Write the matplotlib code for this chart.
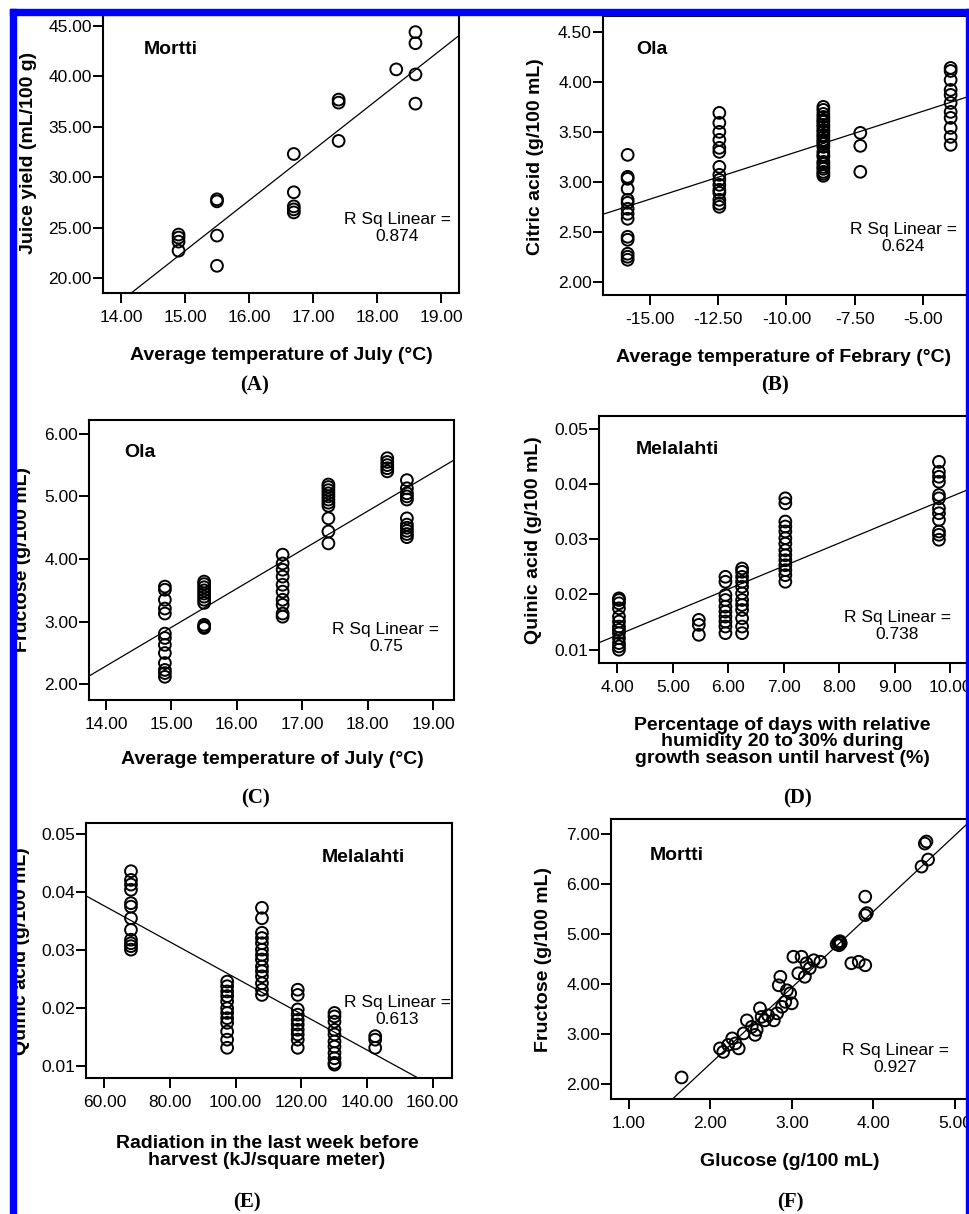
import matplotlib
matplotlib.use("Agg")
import matplotlib.pyplot as plt
import numpy as np
from matplotlib.patches import Rectangle

W, H = 969, 1214

# ---- data ----
# (A) Mortti: juice yield vs July temperature
a_cols = [14.9, 15.5, 16.7, 17.4, 18.3, 18.6]
a_vals = [[24.3, 24.0, 23.6, 22.7],
          [27.8, 27.6, 24.2, 21.2],
          [32.3, 28.5, 27.1, 26.8, 26.5],
          [37.7, 37.4, 33.6],
          [40.7],
          [44.4, 43.3, 40.2, 37.3]]

# (B) Ola: citric acid vs February temperature
b_cols = [-15.8, -12.45, -8.65, -7.3, -4.0]
b_vals = [[3.27, 3.05, 3.03, 2.93, 2.82, 2.79, 2.73, 2.68, 2.63, 2.45, 2.42, 2.28, 2.25, 2.22],
          [3.69, 3.59, 3.50, 3.42, 3.34, 3.30, 3.15, 3.07, 3.02, 2.97, 2.92, 2.89, 2.82, 2.78, 2.75],
          [3.75, 3.72, 3.68, 3.65, 3.62, 3.60, 3.57, 3.55, 3.52, 3.50, 3.47, 3.45, 3.42, 3.40,
           3.38, 3.35, 3.30, 3.27, 3.25, 3.20, 3.18, 3.15, 3.13, 3.10, 3.08, 3.06],
          [3.49, 3.36, 3.10],
          [4.14, 4.11, 4.02, 3.92, 3.87, 3.79, 3.70, 3.64, 3.54, 3.45, 3.37]]

# (C) Ola: fructose vs July temperature
c_cols = [14.9, 15.5, 16.7, 17.4, 18.3, 18.6]
c_vals = [[3.56, 3.51, 3.35, 3.21, 3.13, 2.81, 2.74, 2.63, 2.50, 2.34, 2.23, 2.18, 2.12],
          [3.64, 3.60, 3.55, 3.50, 3.45, 3.40, 3.35, 3.30, 2.95, 2.92, 2.90],
          [4.07, 3.93, 3.83, 3.72, 3.59, 3.48, 3.35, 3.27, 3.13, 3.08],
          [5.19, 5.15, 5.10, 5.05, 5.00, 4.95, 4.90, 4.85, 4.65, 4.44, 4.25],
          [5.61, 5.55, 5.50, 5.45, 5.40],
          [5.26, 5.13, 5.05, 5.00, 4.95, 4.65, 4.55, 4.50, 4.45, 4.40, 4.35]]

# (D) Melalahti: quinic acid vs % days RH 20-30 %
d_cols = [4.03, 5.47, 5.95, 6.25, 7.03, 9.8]
d_vals = [[0.0193, 0.019, 0.0184, 0.0175, 0.016, 0.0151, 0.0142, 0.0136, 0.013, 0.0121, 0.0112, 0.0106, 0.010],
          [0.0154, 0.0145, 0.0127],
          [0.0232, 0.0223, 0.0199, 0.019, 0.0178, 0.0169, 0.016, 0.0151, 0.0142, 0.013],
          [0.0247, 0.0241, 0.0232, 0.0223, 0.0214, 0.0202, 0.019, 0.0181, 0.0172, 0.0157, 0.0142, 0.013],
          [0.0374, 0.0365, 0.0332, 0.0323, 0.0314, 0.0302, 0.0292, 0.028, 0.0271, 0.0262,
           0.0253, 0.0244, 0.0235, 0.0223],
          [0.044, 0.0422, 0.0413, 0.0404, 0.038, 0.0374, 0.0356, 0.0347, 0.0335, 0.0314, 0.0308, 0.0299]]

# (E) Melalahti: quinic acid vs radiation
e_cols = [68.1, 97.4, 108.0, 118.9, 130.1, 142.5]
e_vals = [[0.0436, 0.0421, 0.0413, 0.0404, 0.0381, 0.0375, 0.0355, 0.0335, 0.0318, 0.0312, 0.0307, 0.0301],
          [0.0246, 0.0238, 0.0229, 0.0221, 0.0212, 0.020, 0.0192, 0.0183, 0.0175, 0.016, 0.0146, 0.0132],
          [0.0373, 0.0355, 0.033, 0.0321, 0.0312, 0.0301, 0.0292, 0.0284, 0.0272, 0.0264,
           0.0255, 0.0243, 0.0232, 0.0223],
          [0.0232, 0.0223, 0.0198, 0.0189, 0.018, 0.0172, 0.0163, 0.0155, 0.0146, 0.0132],
          [0.0192, 0.0186, 0.0177, 0.0163, 0.0155, 0.0143, 0.0134, 0.0123, 0.0114, 0.0106, 0.0103],
          [0.0152, 0.0146, 0.0132]]

# (F) Mortti: fructose vs glucose
f_glucose = [1.65, 2.12, 2.16, 2.22, 2.27, 2.31, 2.35, 2.41, 2.45, 2.51, 2.55, 2.57, 2.61, 2.63,
             2.67, 2.71, 2.78, 2.82, 2.88, 2.92, 3.00, 2.86, 2.84, 2.94, 2.98, 3.02, 3.12, 3.08,
             3.16, 3.22, 3.27, 3.35, 3.18, 3.55, 3.57, 3.58, 3.60, 3.59, 3.73, 3.82, 3.90,
             3.90, 3.92, 3.90, 4.59, 4.67, 4.63, 4.65]
f_fructose = [2.14, 2.72, 2.65, 2.79, 2.92, 2.82, 2.72, 3.02, 3.28, 3.15, 2.99, 3.09, 3.52, 3.35,
              3.28, 3.38, 3.28, 3.42, 3.55, 3.65, 3.62, 4.15, 3.98, 3.88, 3.82, 4.55, 4.55, 4.22,
              4.15, 4.32, 4.48, 4.45, 4.42, 4.80, 4.84, 4.78, 4.82, 4.86, 4.42, 4.45, 4.38,
              5.38, 5.42, 5.75, 6.35, 6.49, 6.81, 6.85]

r_sq = ["0.874", "0.624", "0.75", "0.738", "0.613", "0.927"]

plt.rcParams["font.family"] = ["Liberation Sans", "DejaVu Sans"]

fig = plt.figure(figsize=(W / 100, H / 100), dpi=100)


def px_axes(left, top, right, bottom):
    return fig.add_axes([left / W, 1 - bottom / H, (right - left) / W, (bottom - top) / H])


def ftext(x, y, s, **kw):
    fig.text(x / W, 1 - y / H, s, **kw)


def expand(cols, vals):
    xs = np.repeat(cols, [len(v) for v in vals])
    ys = np.concatenate([np.array(v, dtype=float) for v in vals])
    return xs, ys


panels = [
    # box (l, t, r, b), xlim, ylim, xticks, yticks
    dict(box=(103, 15, 459, 293), xlim=(13.72, 19.28), ylim=(18.5, 46.1),
         xt=[14, 15, 16, 17, 18, 19], yt=[20, 25, 30, 35, 40, 45], data=expand(a_cols, a_vals)),
    dict(box=(603, 16, 975, 295), xlim=(-16.70, -3.11), ylim=(1.867, 4.66),
         xt=[-15, -12.5, -10, -7.5, -5], yt=[2, 2.5, 3, 3.5, 4, 4.5], data=expand(b_cols, b_vals)),
    dict(box=(89, 420, 454, 700), xlim=(13.74, 19.32), ylim=(1.75, 6.22),
         xt=[14, 15, 16, 17, 18, 19], yt=[2, 3, 4, 5, 6], data=expand(c_cols, c_vals)),
    dict(box=(599, 416, 975, 663), xlim=(3.67, 10.45), ylim=(0.0076, 0.0523),
         xt=[4, 5, 6, 7, 8, 9, 10], yt=[0.01, 0.02, 0.03, 0.04, 0.05], data=expand(d_cols, d_vals)),
    dict(box=(86, 823, 452, 1078), xlim=(54.4, 165.9), ylim=(0.008, 0.0519),
         xt=[60, 80, 100, 120, 140, 160], yt=[0.01, 0.02, 0.03, 0.04, 0.05], data=expand(e_cols, e_vals)),
    dict(box=(611, 819, 975, 1099), xlim=(0.785, 5.245), ylim=(1.71, 7.30),
         xt=[1, 2, 3, 4, 5], yt=[2, 3, 4, 5, 6, 7], data=(np.array(f_glucose), np.array(f_fructose))),
]

for p in panels:
    ax = px_axes(*p["box"])
    xs, ys = p["data"]
    ax.scatter(xs, ys, s=72, facecolors="none", edgecolors="black", linewidths=1.4, zorder=3)
    k, b0 = np.polyfit(xs, ys, 1)
    lx = np.array(p["xlim"])
    ax.plot(lx, k * lx + b0, color="black", lw=0.9, zorder=2)
    ax.set_xlim(p["xlim"])
    ax.set_ylim(p["ylim"])
    ax.set_xticks(p["xt"])
    ax.set_yticks(p["yt"])
    ax.set_xticklabels(["%.2f" % v for v in p["xt"]])
    ax.set_yticklabels(["%.2f" % v for v in p["yt"]])
    ax.tick_params(direction="out", length=7, width=1.4, labelsize=12.5, pad=1)
    ax.tick_params(axis="x", pad=5)
    for sp in ax.spines.values():
        sp.set_linewidth(1.5)

lab = dict(fontsize=14, fontweight="bold", ha="center", va="center")
# y labels
ftext(29, 153, "Juice yield (mL/100 g)", rotation=90, **lab)
ftext(535, 157, "Citric acid (g/100 mL)", rotation=90, **lab)
ftext(23, 559, "Fructose (g/100 mL)", rotation=90, **lab)
ftext(533, 540, "Quinic acid (g/100 mL)", rotation=90, **lab)
ftext(22, 951, "Quinic acid (g/100 mL)", rotation=90, **lab)
ftext(543, 960, "Fructose (g/100 mL)", rotation=90, **lab)
# x labels
ftext(281, 355, "Average temperature of July (°C)", **lab)
ftext(784, 357, "Average temperature of Febrary (°C)", **lab)
ftext(272, 760, "Average temperature of July (°C)", **lab)
ftext(782, 742, "Percentage of days with relative\nhumidity 20 to 30% during\ngrowth season until harvest (%)",
      linespacing=0.95, **lab)
ftext(267, 1152, "Radiation in the last week before\nharvest (kJ/square meter)", linespacing=0.95, **lab)
ftext(790, 1162, "Glucose (g/100 mL)", **lab)

# panel letters
plet = dict(fontsize=15, fontweight="bold", family="Liberation Serif", ha="center", va="center")
ftext(255, 385, "(A)", **plet)
ftext(775, 385, "(B)", **plet)
ftext(255, 798, "(C)", **plet)
ftext(798, 798, "(D)", **plet)
ftext(247, 1202, "(E)", **plet)
ftext(790, 1202, "(F)", **plet)

# site names
site = dict(fontsize=14, fontweight="bold", ha="left", va="center")
ftext(144, 50, "Mortti", **site)
ftext(636, 50, "Ola", **site)
ftext(124, 453, "Ola", **site)
ftext(636, 450, "Melalahti", **site)
ftext(322, 857, "Melalahti", **site)
ftext(650, 856, "Mortti", **site)

# R squared notes
rpos = [(397, 228), (903, 238), (386, 638), (897, 626), (397, 1011), (895, 1059)]
for (x, y), r in zip(rpos, r_sq):
    ftext(x, y, "R Sq Linear =\n" + r, fontsize=12.5, ha="center", va="center",
          multialignment="center", linespacing=1.2)

# blue frame
blue = "#0000ff"
fig.patches.append(Rectangle((10 / W, 0), 6 / W, 1 - 9 / H, transform=fig.transFigure,
                             color=blue, zorder=10))
fig.patches.append(Rectangle((10 / W, 1 - 15 / H), (W - 10) / W, 6 / H, transform=fig.transFigure,
                             color=blue, zorder=10))
fig.patches.append(Rectangle((966 / W, 0), 3 / W, 1 - 9 / H, transform=fig.transFigure,
                             color=blue, zorder=10))

fig.savefig("out.png", dpi=100)
